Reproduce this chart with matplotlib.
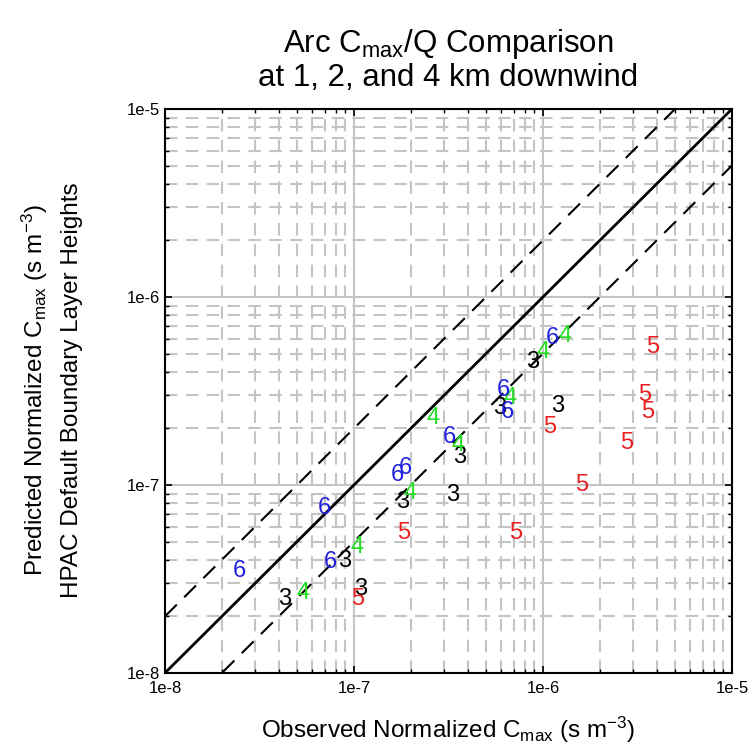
import numpy as np
import matplotlib
matplotlib.use("Agg")
import matplotlib.pyplot as plt

plt.rcParams['font.family'] = ['Liberation Sans', 'DejaVu Sans']
plt.rcParams['mathtext.default'] = 'regular'

# observed / predicted Cmax/Q values, one pair of lists per label
obs_3 = [4.31e-8, 8.96e-8, 1.08e-7, 1.82e-7, 3.34e-7, 3.64e-7, 5.92e-7, 8.85e-7, 1.19e-6]
pred_3 = [2.48e-8, 3.94e-8, 2.80e-8, 8.12e-8, 8.85e-8, 1.41e-7, 2.57e-7, 4.51e-7, 2.63e-7]

obs_4 = [5.37e-8, 1.04e-7, 1.98e-7, 2.62e-7, 3.55e-7, 6.69e-7, 1.00e-6, 1.31e-6]
pred_4 = [2.66e-8, 4.68e-8, 9.06e-8, 2.27e-7, 1.63e-7, 2.90e-7, 5.10e-7, 6.20e-7]

obs_5 = [1.05e-7, 1.84e-7, 7.20e-7, 1.09e-6, 1.61e-6, 2.78e-6, 3.47e-6, 3.59e-6, 3.82e-6]
pred_5 = [2.48e-8, 5.55e-8, 5.55e-8, 2.04e-7, 1.00e-7, 1.67e-7, 3.01e-7, 2.44e-7, 5.42e-7]

obs_6 = [2.49e-8, 6.94e-8, 7.46e-8, 1.69e-7, 1.88e-7, 3.18e-7, 6.14e-7, 6.45e-7, 1.12e-6]
pred_6 = [3.49e-8, 7.55e-8, 3.89e-8, 1.13e-7, 1.23e-7, 1.80e-7, 3.20e-7, 2.44e-7, 6.05e-7]

groups = [
    ("3", obs_3, pred_3, "black"),
    ("4", obs_4, pred_4, "#22dd22"),
    ("5", obs_5, pred_5, "#e82020"),
    ("6", obs_6, pred_6, "#2020e0"),
]

fig = plt.figure(figsize=(7.55, 7.52), dpi=100)
ax = fig.add_axes([0.2185, 0.1051, 0.751, 0.750])

ax.set_xscale('log')
ax.set_yscale('log')
ax.set_xlim(1e-8, 1e-5)
ax.set_ylim(1e-8, 1e-5)

ax.grid(True, which='major', color='#c4c4c4', linewidth=1.5, linestyle='-')
ax.grid(True, which='minor', color='#c4c4c4', linewidth=1.5, linestyle=(0, (6, 4)))
ax.set_axisbelow(True)

# 1:1 and factor-of-2 lines
xx = np.array([1e-8, 1e-5])
ax.plot(xx, xx, color='black', linewidth=2)
ax.plot(xx, 2 * xx, color='black', linewidth=1.5, linestyle=(0, (8, 5)))
ax.plot(xx, 0.5 * xx, color='black', linewidth=1.5, linestyle=(0, (8, 5)))

for lab, xs, ys, col in groups:
    for x, y in zip(xs, ys):
        ax.text(x, y, lab, color=col, fontsize=17, ha='center', va='center')

ax.set_xticks([1e-8, 1e-7, 1e-6, 1e-5])
ax.set_xticklabels(['1e-8', '1e-7', '1e-6', '1e-5'])
ax.set_yticks([1e-8, 1e-7, 1e-6, 1e-5])
ax.set_yticklabels(['1e-8', '1e-7', '1e-6', '1e-5'])
ax.tick_params(which='both', direction='in', top=True, right=True, labelsize=12)
ax.tick_params(which='major', length=5, width=1.2)
ax.tick_params(axis='x', which='major', pad=6)
ax.tick_params(which='minor', length=3, width=1.0)
ax.xaxis.set_minor_formatter(matplotlib.ticker.NullFormatter())
ax.yaxis.set_minor_formatter(matplotlib.ticker.NullFormatter())
for s in ax.spines.values():
    s.set_linewidth(1.5)

fig.text(0.593, 0.029, 'Observed Normalized C$_{max}$ (s m$^{-3}$)', fontsize=17.5,
         ha='center', va='center')
fig.text(0.046, 0.481, 'Predicted Normalized C$_{max}$ (s m$^{-3}$)', fontsize=17.5,
         rotation=90, ha='center', va='center')
fig.text(0.096, 0.481, 'HPAC Default Boundary Layer Heights', fontsize=17.5,
         rotation=90, ha='center', va='center')

fig.text(0.594, 0.942, 'Arc C$_{max}$/Q Comparison', fontsize=22.5, ha='center', va='center')
fig.text(0.594, 0.896, 'at 1, 2, and 4 km downwind', fontsize=22.5, ha='center', va='center')

fig.savefig('out.png', dpi=100)
